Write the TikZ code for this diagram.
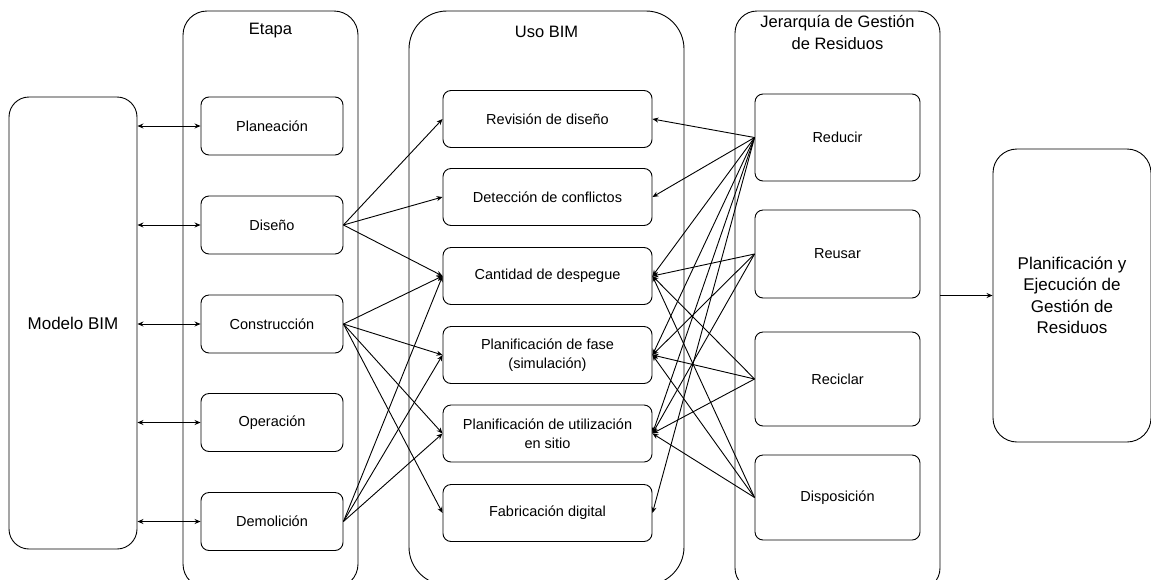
\documentclass[tikz,border=0pt]{standalone}
\usepackage{fontspec}
\setmainfont{Liberation Sans}
\usetikzlibrary{arrows.meta}
\begin{document}
\begin{tikzpicture}[x=1pt,y=-1pt,
  line width=0.9pt,
  tip/.style={-{Stealth[length=6pt,width=5pt]}},
  biTip/.style={{Stealth[length=6pt,width=5pt]}-{Stealth[length=6pt,width=5pt]}},
  item/.style={draw, rounded corners=8pt, align=center, inner sep=2pt,
    font=\fontsize{14.5}{19}\selectfont},
  group/.style={draw, rounded corners=24pt, inner sep=0pt},
  title/.style={align=center, font=\fontsize{16.5}{22}\selectfont},
  big/.style={draw, rounded corners=24pt, align=center, inner sep=2pt,
    font=\fontsize{17}{21.5}\selectfont}]
\clip (0,0) rectangle (1151,579);

% column frames
\node[group, minimum width=175pt, minimum height=577pt] (etapa) at (270.5,299.5) {};
\node[group, rounded corners=38pt, minimum width=275pt, minimum height=574pt] (uso) at (546.5,298) {};
\node[group, rounded corners=22pt, minimum width=205pt, minimum height=579pt] (jer) at (837.5,300.5) {};
\node[title] (tEtapa) at (270.5,31) {Etapa};
\node[title] (tUso) at (546.5,32) {Uso BIM};
\node[title] (tJer) at (837.5,33) {Jerarquía de Gestión\\de Residuos};

% outer blocks
\node[big, rounded corners=20pt, minimum width=128pt, minimum height=452pt] (bim) at (73,323) {Modelo BIM};
\node[big, minimum width=158pt, minimum height=293pt] (plan) at (1072,295.5) {Planificación y\\Ejecución de\\Gestión de\\Residuos};

% stages
\begin{scope}[every node/.style={item, minimum width=142pt, minimum height=58pt}]
\node (e1) at (272,126) {Planeación};
\node (e2) at (272,225) {Diseño};
\node (e3) at (272,324) {Construcción};
\node (e4) at (272,422.5) {Operación};
\node (e5) at (272,521.5) {Demolición};
\end{scope}

% BIM uses
\begin{scope}[every node/.style={item, minimum width=209pt, minimum height=57pt}]
\node (u1) at (547.5,119) {Revisión de diseño};
\node (u2) at (547.5,197) {Detección de conflictos};
\node (u3) at (547.5,276) {Cantidad de despegue};
\node (u4) at (547.5,355) {Planificación de fase\\(simulación)};
\node (u5) at (547.5,433.5) {Planificación de utilización\\en sitio};
\node (u6) at (547.5,513) {Fabricación digital};
\end{scope}

% waste hierarchy
\begin{scope}[every node/.style={item, minimum width=165pt}]
\node[minimum height=87pt] (w1) at (837.5,137.5) {Reducir};
\node[minimum height=88pt] (w2) at (837.5,254) {Reusar};
\node[minimum height=94pt] (w3) at (837.5,379) {Reciclar};
\node[minimum height=85pt] (w4) at (837.5,497.5) {Disposición};
\end{scope}

% model <-> stages
\foreach \e in {e1,e2,e3,e4,e5}
  \draw[biTip] (\e.west -| bim.east) -- (\e.west);

% stages -> uses
\foreach \a/\b in {e2/u1,e2/u2,e2/u3,
                   e3/u3,e3/u4,e3/u5,e3/u6,
                   e5/u3,e5/u4,e5/u5}
  \draw[tip] (\a.east) -- (\b.west);

% hierarchy -> uses
\foreach \a/\b in {w1/u1,w1/u2,w1/u3,w1/u4,w1/u5,w1/u6,
                   w2/u3,w2/u4,w2/u5,
                   w3/u3,w3/u4,w3/u5,
                   w4/u3,w4/u4,w4/u5}
  \draw[tip] (\a.west) -- (\b.east);

% hierarchy -> planning
\draw[tip, line width=1.4pt] (plan.west -| jer.east) -- (plan.west);
\end{tikzpicture}
\end{document}
